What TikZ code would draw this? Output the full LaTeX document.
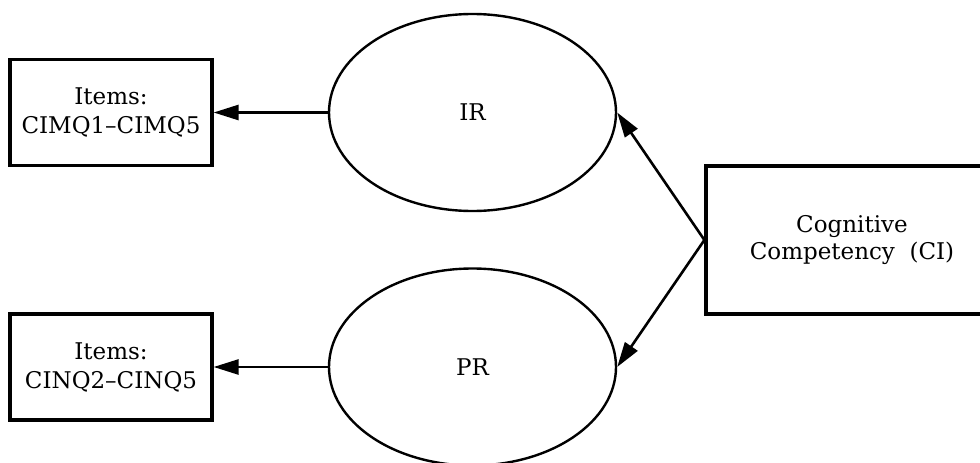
\documentclass[tikz,border=0pt]{standalone}
\usepackage{fontspec}
\setmainfont{DejaVu Serif}
\usetikzlibrary{arrows.meta,shapes.geometric}
\begin{document}
\begin{tikzpicture}[x=1pt,y=-1pt,
  itembox/.style={draw, line width=3.2pt, minimum width=202pt, minimum height=106pt,
    inner sep=0pt, align=center, font=\fontsize{23}{29}\selectfont},
  latent/.style={draw, ellipse, line width=2.4pt, minimum width=287pt, minimum height=197pt,
    inner sep=0pt, font=\fontsize{23}{29}\selectfont},
  construct/.style={draw, line width=3.2pt, minimum width=292pt, minimum height=148pt,
    inner sep=0pt, align=center, font=\fontsize{23}{27}\selectfont},
  link/.style={line width=2.6pt, -{Triangle[length=25pt,width=15pt]}}]
\useasboundingbox (0,0) rectangle (980,463);
\clip (0,0) rectangle (980,463);
\path[fill=white] (0,0) rectangle (980,463);
\node[itembox] (items1) at (111,112.5) {Items:\\CIMQ1–CIMQ5};
\node[itembox] (items2) at (111,367) {Items:\\CINQ2–CINQ5};
\node[latent] (ir) at (472.5,112.5) {IR};
\node[latent] (pr) at (472.5,367) {PR};
\node[construct] (ci) at (852,240) {Cognitive\\Competency~~(CI)};
\draw[link] (ir.west) -- (items1.east);
\draw[link] (pr.west) -- (items2.east);
\draw[link] (ci.west) -- (ir.east);
\draw[link] (ci.west) -- (pr.east);
\end{tikzpicture}
\end{document}
